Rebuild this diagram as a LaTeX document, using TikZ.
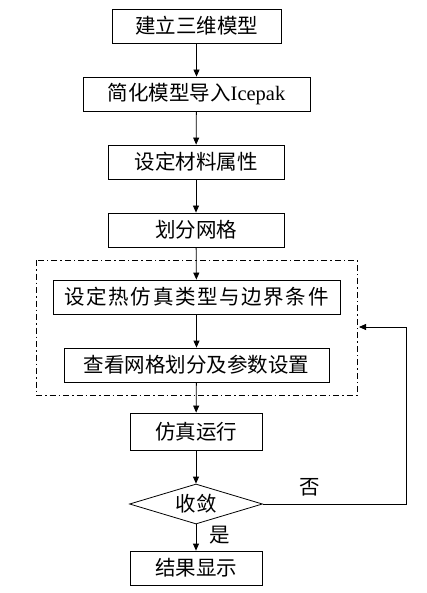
\documentclass[tikz,border=0pt]{standalone}
\usepackage{fontspec}
\setmainfont{Liberation Serif}
\newfontfamily\cjk{Noto Sans CJK SC}
\newfontfamily\cjkwide[LetterSpace=8]{Noto Sans CJK SC}
\usetikzlibrary{shapes.geometric, arrows.meta, positioning}

\begin{document}
\begin{tikzpicture}[x=1pt, y=-1pt, font=\fontsize{20.5}{24}\selectfont,
  stepbox/.style={draw, line width=0.8pt, inner sep=0pt, minimum height=34pt},
  decide/.style={draw, diamond, aspect=3.3, line width=0.8pt, inner sep=0pt,
                 minimum width=133pt, minimum height=40pt},
  flow/.style={-{Triangle[length=7pt, width=6pt]}, line width=0.8pt}]

  \useasboundingbox (0,0) rectangle (427,593);

  \node[stepbox, minimum width=169pt] (model)  at (196.5, 26)  {\cjk 建立三维模型};
  \node[stepbox, minimum width=227pt] (import) at (196.5, 94)  {\cjk 简化模型导入\rmfamily Icepak};
  \node[stepbox, minimum width=176pt] (mater)  at (196, 162)   {\cjk 设定材料属性};
  \node[stepbox, minimum width=176pt] (mesh)   at (196, 230)   {\cjk 划分网格};
  \node[stepbox, minimum width=287pt] (bound)  at (196.5, 297) {\cjkwide 设定热仿真类型与边界条件};
  \node[stepbox, minimum width=265pt] (check)  at (196.5, 365) {\cjk 查看网格划分及参数设置};
  \node[stepbox, minimum width=132pt, minimum height=37pt] (run) at (196, 431.5) {\cjk 仿真运行};
  \node[decide] (conv) at (196, 504) {\cjk 收敛};
  \node[stepbox, minimum width=132pt] (result) at (196, 568) {\cjk 结果显示};

  % dash-dot frame round the setup steps
  \draw[line width=0.8pt, dash pattern=on 6pt off 3pt on 1.5pt off 3pt]
    (36,260) rectangle (357,395);
  \coordinate (frame) at (359,327);
  \coordinate (loop)  at (406,327);

  \draw[flow] (model) -- (import);
  \draw[flow] (import) -- (mater);
  \draw[flow] (mater) -- (mesh);
  \draw[flow] (mesh) -- (bound);
  \draw[flow] (bound) -- (check);
  \draw[flow] (check) -- (run);
  \draw[flow] (run) -- (conv);
  \draw[flow] (conv) -- (result);
  \draw[flow] (conv.east) -| (loop) -- (frame);

  \node (no)  at (310, 487) {\cjk 否};
  \node (yes) at (220, 535) {\cjk 是};

\end{tikzpicture}
\end{document}
